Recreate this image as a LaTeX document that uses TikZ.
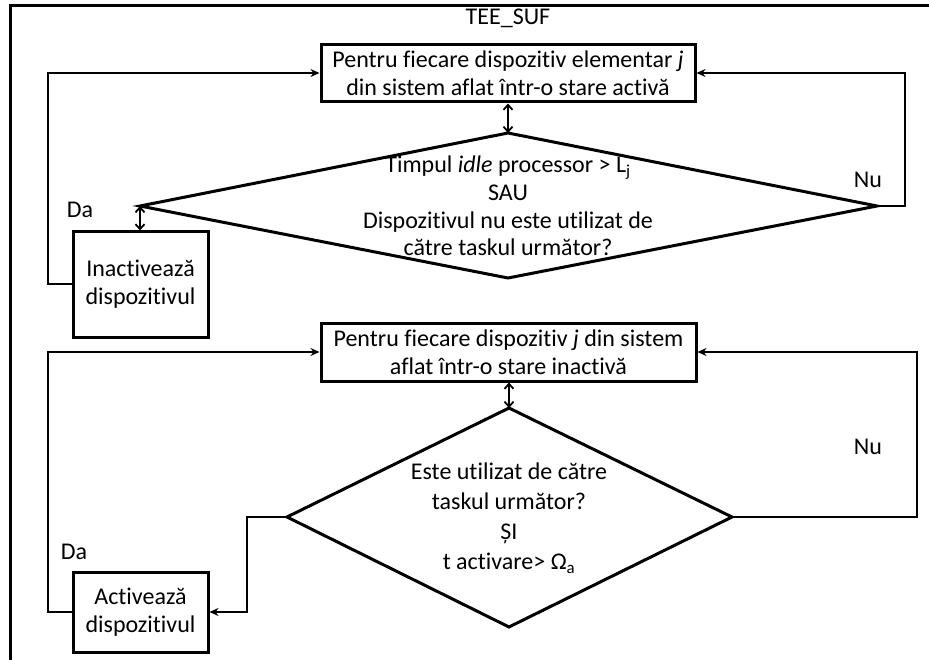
\documentclass[tikz,border=0pt]{standalone}
\usepackage{fontspec}
\setmainfont{Carlito}[Ligatures=NoCommon]
\usetikzlibrary{arrows.meta}
\begin{document}
\begin{tikzpicture}[x=1pt,y=-1pt,
  txt/.style={font=\fontsize{24}{28}\selectfont, align=center, inner sep=0pt},
  boxnode/.style={draw, line width=3pt, inner sep=0pt, font=\fontsize{24}{28}\selectfont, align=center},
  outline/.style={draw, line width=3pt, line join=miter},
  link/.style={line width=1.8pt, -{Stealth[length=9pt,width=8pt]}},
  both/.style={line width=1.8pt, {Straight Barb[length=5pt,width=9pt]}-{Straight Barb[length=5pt,width=9pt]}}
]
\useasboundingbox (0,0) rectangle (929,660);
% frame
\draw[line width=3pt] (10,662) -- (10,6) -- (931,6);

% ---- first block ----
\node[txt] (title) at (508,18) {TEE\_SUF};
\node[boxnode, minimum width=374pt, minimum height=57pt] (box1) at (508,73.5)
  {Pentru fiecare dispozitiv elementar \textit{j}\\din sistem aflat într-o stare activă};
\coordinate (d1t) at (508,133);
\coordinate (d1l) at (140,206);
\coordinate (d1r) at (877,206);
\coordinate (d1b) at (508,278);
\draw[outline] (d1t) -- (d1r) -- (d1b) -- (d1l) -- cycle;
\node[txt, font=\fontsize{24}{27.7}\selectfont] (q1) at (508,206)
  {Timpul \textit{idle} processor > L\textsubscript{j}\\SAU\\Dispozitivul nu este utilizat de\\către taskul următor?};
\node[boxnode, minimum width=135pt, minimum height=105pt] (inact) at (140.5,284.5)
  {Inactivează\\dispozitivul};
\node[txt] (da1) at (80,210) {Da};
\node[txt] (nu1) at (868,180) {Nu};

\coordinate (r1a) at (905,206);
\coordinate (r1b) at (905,73);
\coordinate (l1a) at (48,284);
\coordinate (l1b) at (48,73);
\draw[both] (box1.south) -- (d1t);
\draw[both] (d1l) -- (inact.north -| d1l);
\draw[link] (d1r) -- (r1a) -- (r1b) -- (box1.east |- r1b);
\draw[link] (inact.west |- l1a) -- (l1a) -- (l1b) -- (box1.west |- l1b);

% ---- second block ----
\node[boxnode, minimum width=375pt, minimum height=57pt] (box2) at (508.5,352.5)
  {Pentru fiecare dispozitiv \textit{j} din sistem\\aflat într-o stare inactivă};
\coordinate (d2t) at (509,408);
\coordinate (d2l) at (287,517);
\coordinate (d2r) at (732,517);
\coordinate (d2b) at (509,627);
\draw[outline] (d2t) -- (d2r) -- (d2b) -- (d2l) -- cycle;
\node[txt, font=\fontsize{24}{30}\selectfont] (q2) at (509,518)
  {Este utilizat de către\\taskul următor?\\ȘI\\t activare> Ω\textsubscript{a}};
\node[boxnode, minimum width=135pt, minimum height=80pt] (act) at (140.5,612)
  {Activează\\dispozitivul};
\node[txt] (da2) at (74,552) {Da};
\node[txt] (nu2) at (868,447) {Nu};

\coordinate (r2a) at (917,517);
\coordinate (r2b) at (917,352);
\coordinate (y2a) at (247,517);
\coordinate (y2b) at (247,612);
\coordinate (l2a) at (48,612);
\coordinate (l2b) at (48,352);
\draw[both] (box2.south -| d2t) -- (d2t);
\draw[link] (d2r) -- (r2a) -- (r2b) -- (box2.east |- r2b);
\draw[link] (d2l) -- (y2a) -- (y2b) -- (act.east |- y2b);
\draw[link] (act.west |- l2a) -- (l2a) -- (l2b) -- (box2.west |- l2b);
\end{tikzpicture}
\end{document}
